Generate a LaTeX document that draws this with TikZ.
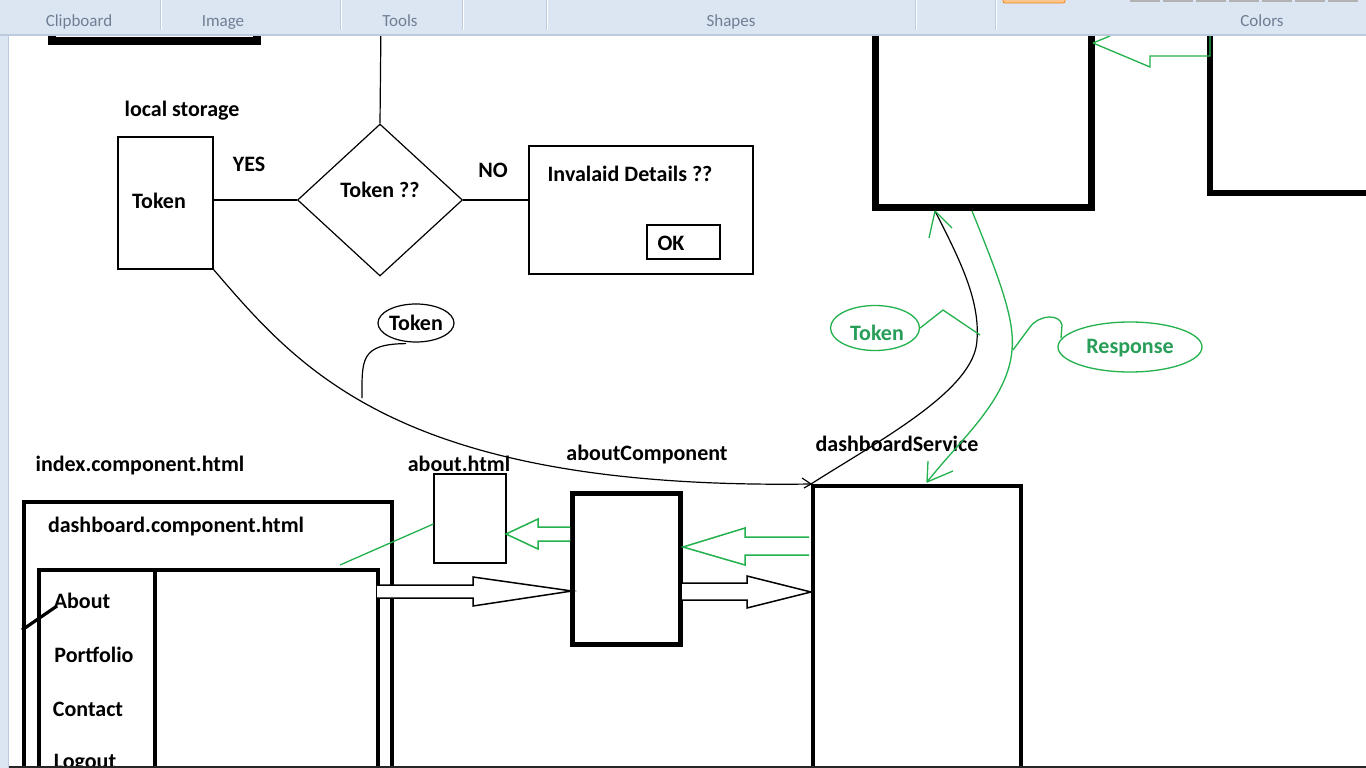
\documentclass[tikz,border=0pt]{standalone}
\usepackage{fontspec}
\setmainfont{Carlito}
\usetikzlibrary{shapes.geometric,arrows.meta}
\definecolor{pgreen}{RGB}{34,177,76}
\definecolor{tgreen}{RGB}{40,158,88}
\definecolor{ribbon}{RGB}{220,230,243}
\definecolor{ribline}{RGB}{188,202,222}
\definecolor{ribtext}{RGB}{112,126,148}
\begin{document}
\begin{tikzpicture}[x=1pt,y=-1pt,
  lbl/.style={font=\fontsize{22}{24}\selectfont\bfseries, inner sep=0pt, anchor=base},
  glbl/.style={lbl, text=tgreen},
  thinbox/.style={draw, line width=1.2pt, inner sep=0pt},
  thickbox/.style={draw, line width=4.5pt, inner sep=0pt},
  conn/.style={line width=1.2pt},
  gconn/.style={draw=pgreen, line width=1.3pt},
  hollow/.style={line width=1.5pt, fill=white, line join=miter},
  riblbl/.style={font=\fontsize{17}{18}\selectfont, text=ribtext, inner sep=0pt, anchor=base}
]
\useasboundingbox (0,0) rectangle (1366,768);
\clip (0,0) rectangle (1366,768);
\fill[white] (0,0) rectangle (1366,768);

% ---- top partial boxes ----
\draw[line width=8pt] (51.5,10) -- (51.5,41.5) -- (256.5,41.5) -- (256.5,10);
\draw[line width=7pt] (875,10) -- (875,207) -- (1091,207) -- (1091,10);
\draw[line width=6.5pt] (1210,10) -- (1210,193) -- (1380,193);
\coordinate (boxAbot) at (935,211);
\coordinate (boxAbot2) at (972,211);
\coordinate (boxAright) at (1093,43);

% ---- flowchart ----
\node[lbl] (ls) at (182,116) {local storage};
\node[thinbox, minimum width=95pt, minimum height=132pt] (tok) at (165.5,203) {};
\node[lbl] (toktxt) at (159,208) {Token};
\node[diamond, draw, line width=1.2pt, minimum width=165pt, minimum height=152pt, aspect=1.085, inner sep=0pt] (dia) at (380,200) {};
\node[lbl] (diatxt) at (380,197) {Token ??};
\node[lbl] (yes) at (249,171) {YES};
\node[lbl] (no) at (493,177) {NO};
\node[thinbox, minimum width=224pt, minimum height=128pt] (inv) at (641,210) {};
\node[lbl] (invtxt) at (630,181) {Invalaid Details ??};
\node[thinbox, minimum width=73pt, minimum height=34pt] (ok) at (683.5,242) {};
\node[lbl] (oktxt) at (671,250) {OK};
\coordinate (topin) at (381,20);
\draw[conn] (topin) -- (dia.north);
\draw[conn] (tok.east |- dia.west) -- (dia.west);
\draw[conn] (dia.east) -- (inv.west |- dia.east);

% ---- boxes lower ----
\node[thickbox, line width=4pt, minimum width=208pt, minimum height=330pt, anchor=north west] (ds) at (811,484) {};
\node[lbl] (dstxt) at (897,451) {dashboardService};
\node[thickbox, line width=5pt, minimum width=108pt, minimum height=151pt] (ac) at (626,568.5) {};
\node[lbl] (actxt) at (647,460) {aboutComponent};
\node[thinbox, minimum width=72pt, minimum height=89pt] (ah) at (470,518.5) {};
\node[lbl] (ahtxt) at (459,471) {about.html};

\node[lbl] (idx) at (140,471) {index.component.html};
\node[thickbox, line width=4pt, minimum width=368pt, minimum height=330pt, anchor=north west] (outer) at (22,500) {};
\node[lbl] (dct) at (176,532) {dashboard.component.html};
\node[thickbox, line width=4pt, minimum width=339pt, minimum height=300pt, anchor=north west] (inner) at (37,568) {};
\draw[line width=4pt] (155,568) -- (155,800);
\node[lbl] (about) at (82,608) {About};
\node[lbl] (port) at (94,662) {Portfolio};
\node[lbl] (cont) at (88,716) {Contact};
\node[lbl] (logo) at (85,768) {Logout};
\draw[line width=3.2pt] (22,630) -- (57,606);

% ---- hollow arrows ----
\draw[hollow, draw=black] (377,585) -- (473,585) -- (473,577) -- (572,591) -- (473,606) -- (473,598) -- (377,598);
\draw[hollow, draw=black] (682,583) -- (747,583) -- (747,576) -- (811,592) -- (747,608) -- (747,600) -- (682,600);
\draw[hollow, draw=pgreen] (809,537) -- (745,537) -- (745,528) -- (683,547) -- (745,565) -- (745,555) -- (809,555);
\draw[hollow, draw=pgreen] (570,527) -- (538,527) -- (538,519) -- (506,534) -- (538,549) -- (538,541) -- (570,541);
\draw[gconn] (340,565) -- (ah.west |- 0,524);

% ---- token callout and long curve ----
\node[draw, ellipse, line width=1.2pt, minimum width=76pt, minimum height=38pt, inner sep=0pt] (tokc) at (416,323) {};
\node[lbl] (tokctxt) at (416,330) {Token};
\coordinate (j1) at (362,398);
\draw[conn] (tok.south east) .. controls (300,370) and (400,490) .. (ds.north west);
\draw[conn] (ds.north west) -- ++(-9,-6);
\draw[conn] (ds.north west) -- ++(-7,4);
\draw[conn] (tokc.south) ++(-10,1) .. controls (360,344) and (362,360) .. (j1);

% ---- service <-> top box ----
\draw[conn] (boxAbot) .. controls (960,260) and (980,300) .. (977,340) .. controls (975,390) and (880,440) .. (ds.north west);
\draw[gconn] (boxAbot) -- (929,238);
\draw[gconn] (boxAbot) -- (952,228);
\coordinate (dsin) at (927,482);
\draw[gconn] (boxAbot2) .. controls (1000,280) and (1015,320) .. (1012,350) .. controls (1008,400) and (960,440) .. (dsin);
\draw[gconn] (dsin) -- (928,461);
\draw[gconn] (dsin) -- (953,471);

\node[draw=pgreen, ellipse, line width=1.3pt, minimum width=89pt, minimum height=45pt, inner sep=0pt] (gtok) at (875,328) {};
\node[glbl] (gtoktxt) at (877,340) {Token};
\draw[gconn] (gtok.east) -- (943,310) -- (980,335);
\node[draw=pgreen, ellipse, line width=1.3pt, minimum width=144pt, minimum height=50pt, inner sep=0pt] (resp) at (1130,347) {};
\node[glbl] (resptxt) at (1130,353) {Response};
\draw[gconn] (1061,338) -- (1062,325) .. controls (1060,314) and (1040,314) .. (1030,327) -- (1013,350);

\draw[gconn] (1210,33) -- (1210,56) -- (1150,56) -- (1150,67) -- (boxAright);
\draw[gconn] (boxAright) -- (1110,36);

% ---- bottom edge ----
\draw[line width=1.6pt, black!85] (0,767.2) -- (1366,767.2);

% ---- ribbon ----
\fill[ribbon] (0,0) rectangle (1366,35);
\fill[ribbon] (0,35) rectangle (8,768);
\draw[ribline, line width=1.5pt] (0,35) -- (1366,35);
\draw[ribline, line width=1pt] (8,35) -- (8,768);
\foreach \sx in {160,340,462,546,915,995}{
  \draw[ribline, line width=1pt] (\sx,0) -- (\sx,30);
  \draw[white, line width=1pt] (\sx+1,0) -- (\sx+1,30);
}
\node[riblbl] (rclip) at (79,27) {Clipboard};
\node[riblbl] (rimg) at (223,27) {Image};
\node[riblbl] (rtools) at (400,27) {Tools};
\node[riblbl] (rshapes) at (731,27) {Shapes};
\node[riblbl] (rcolors) at (1262,27) {Colors};
\fill[orange!45, draw=orange!80!brown, line width=0.8pt, rounded corners=2pt] (1003,-5) rectangle (1065,3);
\foreach \sx in {1130,1163,1196,1229,1262,1295,1328}{
  \fill[gray!60] (\sx,-2) rectangle (\sx+30,2);
}
\end{tikzpicture}
\end{document}
